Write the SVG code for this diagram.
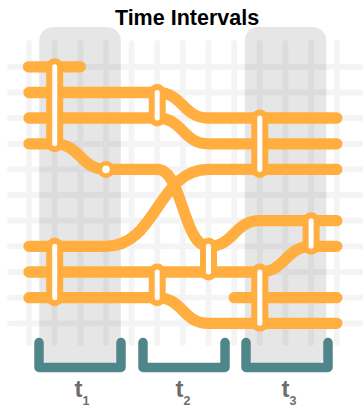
<svg xmlns="http://www.w3.org/2000/svg" width="363" height="407" viewBox="0 0 363 407">
<style>
.band{fill:#e6e6e6}
.grid{stroke:#000;stroke-opacity:.045;stroke-width:5.800;stroke-linecap:round;fill:none}
.con{stroke:#ffae3f;stroke-width:11.300;stroke-linecap:round;fill:none}
.po{stroke:#ffae3f;stroke-width:17;stroke-linecap:round;fill:none}
.pw{stroke:#fff;stroke-width:5;stroke-linecap:round;fill:none}
.br{stroke:#4f868a;stroke-width:9.500;stroke-linecap:round;stroke-linejoin:round;fill:none}
.t{font-family:"Liberation Sans",Arial,sans-serif;font-weight:700;fill:#6d6d6d;font-size:24px}
.s{font-size:12.500px}
</style>
<rect width="363" height="407" fill="#fff"/>
<g id="bands">
<rect class="band" x="39.300" y="27" width="81.500" height="338" rx="14"/>
<rect class="band" x="244.800" y="27" width="81.500" height="338" rx="14"/>
</g>
<g id="grid" class="grid">
<path d="M29 43V343M54.700 43V343M80.300 43V343M106 43V343M131.500 43V343M157.200 43V343M182.800 43V343M208.500 43V343M234.200 43V343M259.800 43V343M285.500 43V343M311.100 43V343M336.800 43V343M10 66.800H370M10 92.500H370M10 118H370M10 143.800H370M10 169.400H370M10 195H370M10 220.700H370M10 246.300H370M10 272H370M10 297.700H370M10 323.300H370"/>
</g>
<g id="connectors" class="con">
<path d="M28.500 66.800H80.300"/>
<path d="M29 92.500H157.200C182.800 92.500 182.800 118 208.500 118H336.800"/>
<path d="M29 118H157.200C182.800 118 182.800 143.800 208.500 143.800H336.800"/>
<path d="M29 143.800H54.700C80.300 143.800 80.300 169.400 106 169.400H157.200C182.800 169.400 182.800 246.300 208.500 246.300C234.200 246.300 234.200 220.700 259.800 220.700H336.800"/>
<path d="M29 246.300H106C157.200 246.300 157.200 169.400 208.500 169.400H336.800"/>
<path d="M29 272H259.800C285.500 272 285.500 246.300 311.100 246.300H336.800"/>
<path d="M29 297.700H157.200C182.800 297.700 182.800 323.300 208.500 323.300H336.800"/>
<path d="M234.200 297.700H336.800"/>
</g>
<g id="n1"><path class="po" d="M54.700 66.800V143.800"/><path class="pw" d="M54.700 66.800V143.800"/></g>
<g id="n2"><path class="po" d="M157.200 92.500V118"/><path class="pw" d="M157.200 92.500V118"/></g>
<g id="n3"><path class="po" d="M259.800 118V169.400"/><path class="pw" d="M259.800 118V169.400"/></g>
<g id="n4"><circle cx="106" cy="169.400" r="8.500" fill="#ffae3f"/><circle cx="106" cy="169.400" r="3.800" fill="#fff"/></g>
<g id="n5"><path class="po" d="M54.700 246.300V297.700"/><path class="pw" d="M54.700 246.300V297.700"/></g>
<g id="n6"><path class="po" d="M157.200 272V297.700"/><path class="pw" d="M157.200 272V297.700"/></g>
<g id="n7"><path class="po" d="M208.500 246.300V272"/><path class="pw" d="M208.500 246.300V272"/></g>
<g id="n8"><path class="po" d="M259.800 272V323.300"/><path class="pw" d="M259.800 272V323.300"/></g>
<g id="n9"><path class="po" d="M311.100 220.700V246.300"/><path class="pw" d="M311.100 220.700V246.300"/></g>
<g id="brackets" class="br">
<path d="M39 342.500V367.500H121V342.500"/>
<path d="M143 342.500V367.500H225V342.500"/>
<path d="M246 342.500V367.500H328V342.500"/>
</g>
<text x="187" y="25" text-anchor="middle" font-family="'Liberation Sans',Arial,sans-serif" font-weight="700" font-size="21.500" fill="#000">Time Intervals</text>
<text class="t" x="74.500" y="397">t<tspan class="s" dy="8">1</tspan></text>
<text class="t" x="175.500" y="397">t<tspan class="s" dy="8">2</tspan></text>
<text class="t" x="281.500" y="397">t<tspan class="s" dy="8">3</tspan></text>
</svg>
